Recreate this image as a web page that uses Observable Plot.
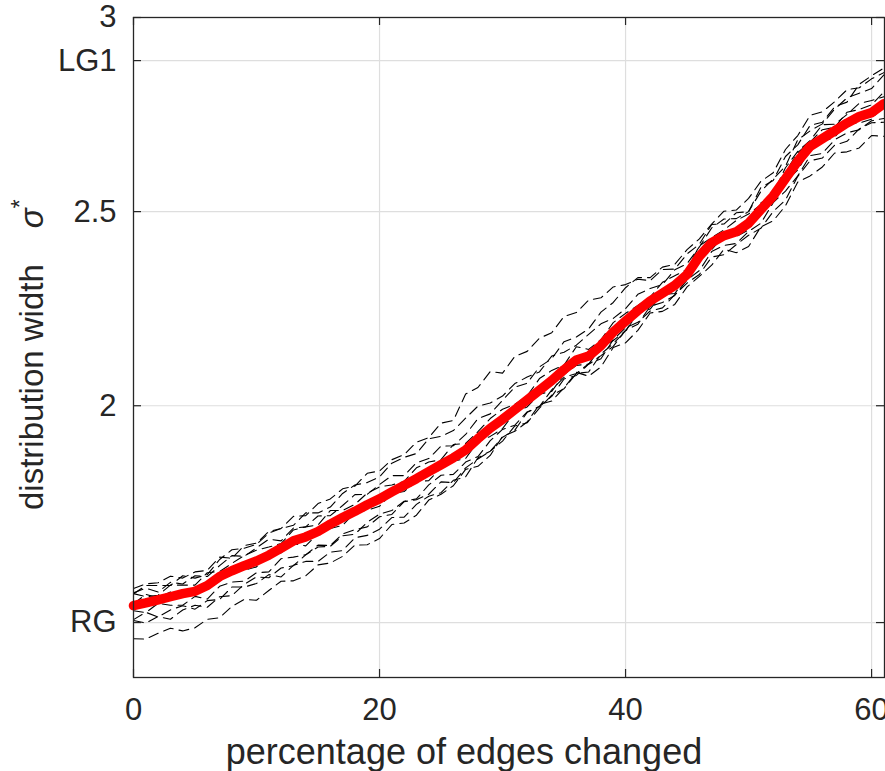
<!DOCTYPE html>
<html><head><meta charset="utf-8">
<script src="https://cdn.jsdelivr.net/npm/d3@7"></script>
<script src="https://cdn.jsdelivr.net/npm/@observablehq/plot@0.6"></script>
<style>body{margin:0;background:#fff}</style>
</head><body><div id="chart"></div>
<script>
const xPct = [0,1,2,3,4,5,6,7,8,9,10,11,12,13,14,15,16,17,18,19,20,21,22,23,24,25,26,27,28,29,30,31,32,33,34,35,36,37,38,39,40,41,42,43,44,45,46,47,48,49,50,51,52,53,54,55,56,57,58,59,60,61];

const meanWidth = [1.485,1.492,1.500,1.508,1.516,1.522,1.537,1.560,1.575,1.588,1.600,1.615,1.633,1.652,1.662,1.676,1.695,1.712,1.728,1.745,1.760,1.778,1.795,1.812,1.830,1.848,1.866,1.886,1.915,1.942,1.965,1.990,2.015,2.040,2.065,2.093,2.118,2.128,2.155,2.190,2.218,2.245,2.270,2.290,2.310,2.338,2.385,2.420,2.438,2.448,2.470,2.505,2.540,2.585,2.630,2.668,2.688,2.708,2.728,2.745,2.755,2.778];

const runA = [1.529,1.541,1.544,1.561,1.556,1.572,1.576,1.610,1.607,1.640,1.646,1.676,1.684,1.715,1.717,1.748,1.760,1.786,1.793,1.826,1.832,1.861,1.874,1.906,1.918,1.955,1.962,2.030,2.047,2.088,2.084,2.127,2.140,2.174,2.188,2.230,2.240,2.272,2.278,2.306,2.312,2.326,2.322,2.351,2.352,2.391,2.416,2.467,2.468,2.497,2.500,2.562,2.580,2.642,2.672,2.722,2.730,2.770,2.782,2.828,2.850,2.870];
const runB = [1.400,1.399,1.414,1.427,1.420,1.428,1.450,1.454,1.483,1.501,1.499,1.524,1.548,1.549,1.562,1.590,1.595,1.612,1.641,1.642,1.658,1.694,1.698,1.718,1.757,1.772,1.794,1.836,1.844,1.872,1.921,1.934,1.958,2.003,2.012,2.046,2.086,2.076,2.100,2.150,2.162,2.194,2.239,2.243,2.261,2.306,2.333,2.362,2.403,2.394,2.410,2.461,2.476,2.515,2.576,2.592,2.615,2.651,2.654,2.664,2.696,2.694];
const runC = [1.515,1.537,1.537,1.537,1.562,1.556,1.565,1.604,1.629,1.633,1.643,1.672,1.684,1.692,1.724,1.724,1.739,1.774,1.796,1.802,1.817,1.852,1.867,1.877,1.915,1.921,1.936,1.968,1.999,2.007,2.025,2.057,2.074,2.087,2.128,2.138,2.156,2.184,2.211,2.225,2.250,2.287,2.302,2.312,2.350,2.366,2.409,2.458,2.481,2.482,2.500,2.552,2.584,2.617,2.685,2.708,2.726,2.764,2.793,2.805,2.817,2.852];
const runD = [1.516,1.508,1.512,1.538,1.538,1.538,1.570,1.573,1.594,1.614,1.628,1.636,1.645,1.680,1.688,1.693,1.730,1.730,1.746,1.775,1.791,1.796,1.805,1.840,1.855,1.861,1.900,1.903,1.933,1.967,1.991,2.004,2.025,2.070,2.091,2.105,2.152,2.145,2.170,2.214,2.238,2.258,2.280,2.318,2.335,2.351,2.412,2.433,2.453,2.477,2.494,2.518,2.548,2.613,2.655,2.683,2.724,2.725,2.750,2.779,2.786,2.796];
const runE = [1.490,1.514,1.505,1.520,1.511,1.531,1.542,1.547,1.578,1.576,1.585,1.614,1.621,1.645,1.639,1.671,1.684,1.692,1.725,1.731,1.741,1.774,1.779,1.805,1.807,1.841,1.857,1.864,1.908,1.921,1.941,1.984,1.997,2.030,2.037,2.081,2.104,2.107,2.150,2.168,2.193,2.241,2.255,2.287,2.289,2.331,2.374,2.402,2.438,2.436,2.453,2.501,2.525,2.577,2.607,2.661,2.680,2.692,2.728,2.728,2.738,2.774];
const runF = [1.472,1.467,1.491,1.486,1.486,1.509,1.502,1.535,1.546,1.548,1.570,1.572,1.606,1.610,1.616,1.641,1.640,1.670,1.681,1.688,1.714,1.720,1.753,1.758,1.772,1.804,1.802,1.840,1.863,1.883,1.919,1.937,1.983,1.998,2.024,2.069,2.078,2.107,2.129,2.153,2.194,2.210,2.256,2.266,2.284,2.324,2.348,2.397,2.413,2.418,2.449,2.470,2.523,2.553,2.592,2.644,2.650,2.685,2.703,2.711,2.734,2.740];
const runG = [1.449,1.468,1.456,1.474,1.485,1.476,1.498,1.501,1.533,1.533,1.542,1.565,1.559,1.589,1.599,1.599,1.623,1.627,1.660,1.666,1.682,1.712,1.713,1.746,1.767,1.776,1.808,1.817,1.866,1.883,1.909,1.948,1.956,1.994,2.027,2.044,2.083,2.087,2.133,2.160,2.192,2.238,2.249,2.289,2.315,2.332,2.385,2.407,2.446,2.450,2.472,2.522,2.543,2.602,2.652,2.679,2.711,2.717,2.756,2.763,2.775,2.808];
const runH = [1.447,1.440,1.457,1.450,1.474,1.486,1.481,1.508,1.511,1.540,1.559,1.557,1.582,1.588,1.616,1.636,1.638,1.665,1.669,1.700,1.721,1.730,1.754,1.760,1.796,1.821,1.823,1.855,1.869,1.910,1.939,1.950,1.984,1.998,2.041,2.073,2.083,2.108,2.121,2.170,2.201,2.215,2.244,2.252,2.286,2.316,2.338,2.383,2.389,2.415,2.439,2.457,2.500,2.530,2.591,2.631,2.638,2.671,2.681,2.713,2.729,2.730];
const runI = [1.518,1.530,1.520,1.545,1.541,1.562,1.560,1.588,1.614,1.612,1.634,1.656,1.652,1.685,1.688,1.716,1.717,1.743,1.771,1.772,1.797,1.820,1.820,1.853,1.864,1.896,1.897,1.926,1.967,1.979,2.014,2.048,2.058,2.100,2.121,2.165,2.177,2.198,2.241,2.266,2.304,2.330,2.330,2.357,2.364,2.402,2.430,2.468,2.501,2.504,2.534,2.578,2.600,2.660,2.696,2.748,2.757,2.783,2.814,2.819,2.842,2.858];

const runNames = ["A","B","C","D","E","F","G","H","I"];
const runValues = [runA,runB,runC,runD,runE,runF,runG,runH,runI];

const xTickVals = [0, 20, 40, 60];
const xGridVals = [20, 40, 60];
const yTickVals = [1.4415, 2, 2.5, 2.889, 3];
const yTickText = ["RG", "2", "2.5", "LG1", "3"];
const yGridVals = [1.4415, 2, 2.5, 2.889];

const runRows = runValues.flatMap((vals, k) => vals.map((v, i) => ({x: xPct[i], y: v, run: runNames[k]})));
const meanRows = meanWidth.map((v, i) => ({x: xPct[i], y: v}));

const W = 885, H = 771, mL = 133, mR = 1, mT = 17, mB = 94;
const plotW = W - mL - mR, plotH = H - mT - mB, tickLen = 8;
const ink = "#262626";

const chart = Plot.plot({
  width: W, height: H,
  marginLeft: mL, marginRight: mR, marginTop: mT, marginBottom: mB,
  style: {fontFamily: "'Liberation Sans', Arial, Helvetica, sans-serif", fontSize: "31px", color: ink, background: "#fff", overflow: "visible"},
  x: {domain: [0, 61.05]},
  y: {domain: [1.3, 3]},
  marks: [
    Plot.ruleX(xGridVals, {stroke: "#dedede", strokeWidth: 1.2}),
    Plot.ruleY(yGridVals, {stroke: "#dedede", strokeWidth: 1.2}),
    Plot.line(runRows, {x: "x", y: "y", z: "run", stroke: "#000", strokeWidth: 1.1, strokeDasharray: "10,6"}),
    Plot.line(meanRows, {x: "x", y: "y", stroke: "#ff0000", strokeWidth: 9.5, strokeLinejoin: "round"}),
    Plot.frame({stroke: ink, strokeWidth: 1.3}),
    Plot.tickY(yTickVals, {stroke: ink, strokeWidth: 1.2, insetRight: plotW - tickLen}),
    Plot.tickY(yTickVals, {stroke: ink, strokeWidth: 1.2, insetLeft: plotW - tickLen}),
    Plot.tickX(xTickVals, {stroke: ink, strokeWidth: 1.2, insetTop: plotH - tickLen}),
    Plot.tickX(xTickVals, {stroke: ink, strokeWidth: 1.2, insetBottom: plotH - tickLen}),
    Plot.axisX({ticks: xTickVals, tickSize: 0, tickPadding: 20, label: null, fontSize: 31}),
    Plot.axisY({ticks: yTickVals, tickSize: 0, tickPadding: 17, label: null, fontSize: 31,
                tickFormat: d => yTickText[yTickVals.indexOf(d)]})
  ]
});

const svg = d3.select(chart);
svg.append("text")
  .attr("x", 464).attr("y", 764)
  .attr("text-anchor", "middle")
  .attr("font-size", 36).attr("fill", ink)
  .text("percentage of edges changed");

const yl = svg.append("text")
  .attr("transform", "translate(43,510) rotate(-90)")
  .attr("text-anchor", "start")
  .attr("font-size", 33).attr("fill", ink);
yl.append("tspan").text("distribution width");
yl.append("tspan").attr("dx", 36).attr("font-style", "italic").text("σ");
yl.append("tspan").attr("dy", -15).attr("font-size", 23).text("*");

document.getElementById("chart").appendChild(chart);
</script>
</body></html>
